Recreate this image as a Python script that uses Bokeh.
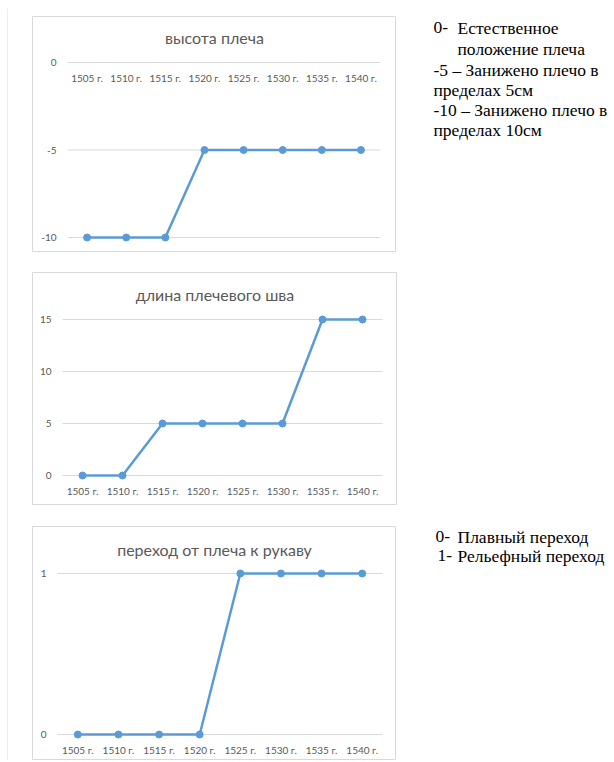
from bokeh.plotting import figure
from bokeh.models import (LinearAxis, FixedTicker, Range1d, Label, ColumnDataSource, Spacer)
from bokeh.layouts import row, column
from bokeh.embed import file_html
from bokeh.resources import INLINE
from bokeh.core.properties import value

# ---------------- data ----------------
years = ["1505 г.", "1510 г.", "1515 г.", "1520 г.", "1525 г.", "1530 г.", "1535 г.", "1540 г."]

title1 = "высота плеча"
height_vals = [-10, -10, -10, -5, -5, -5, -5, -5]
height_ticks = [0, -5, -10]

title2 = "длина плечевого шва"
seam_vals = [0, 0, 5, 5, 5, 5, 15, 15]
seam_ticks = [0, 5, 10, 15]

title3 = "переход от плеча к рукаву"
trans_vals = [0, 0, 0, 0, 1, 1, 1, 1]
trans_ticks = [0, 1]

note1_marks = ["0-", "", "-5 – Занижено плечо в", "пределах 5см", "-10 – Занижено плечо в", "пределах 10см"]
note1_texts = ["Естественное", "положение плеча", "", "", "", ""]
note2_marks = ["0-", "1-"]
note2_texts = ["Плавный переход", "Рельефный переход"]

# ---------------- style ----------------
BLUE = "#5B9BD5"
GRAY_TXT = "#595959"
GRID = "#D9D9D9"
SANS = "Lato"
SERIF = "Liberation Serif"


def make_chart(title, vals, ticks, W, H, pl, pr, top_val, top_px, bot_val, bot_px, title_px):
    n = len(years)
    bw = (pr - pl) / n
    x0 = -0.5 - pl / bw
    x1 = (n - 0.5) + (W - pr) / bw
    ppu = (bot_px - top_px) / (top_val - bot_val)
    y1 = top_val + top_px / ppu
    y0 = bot_val - (H - bot_px) / ppu

    p = figure(width=W, height=H, x_range=Range1d(x0, x1), y_range=Range1d(y0, y1),
               output_backend="svg", toolbar_location=None,
               x_axis_type=None, y_axis_type=None,
               min_border=0, min_border_left=0, min_border_right=0,
               min_border_top=0, min_border_bottom=0)
    p.outline_line_color = GRID
    p.outline_line_width = 1
    p.background_fill_color = "white"
    p.border_fill_color = "white"

    idx = list(range(n))
    # gridlines over plot area
    p.segment(x0=[-0.5] * len(ticks), x1=[n - 0.5] * len(ticks), y0=ticks, y1=ticks,
              line_color=GRID, line_width=1)

    xa = LinearAxis(ticker=FixedTicker(ticks=idx),
                    major_label_overrides={i: years[i] for i in idx})
    xa.fixed_location = 0
    xa.axis_line_color = None
    xa.major_tick_line_color = None
    xa.minor_tick_line_color = None
    xa.major_tick_in = 0
    xa.major_tick_out = 0
    xa.major_label_standoff = 9
    xa.major_label_text_font = SANS
    xa.major_label_text_font_size = "10px"
    xa.major_label_text_color = GRAY_TXT
    p.add_layout(xa, "below")

    ya = LinearAxis(ticker=FixedTicker(ticks=ticks),
                    major_label_overrides={t: str(t) for t in ticks})
    ya.fixed_location = -0.5
    ya.axis_line_color = None
    ya.major_tick_line_color = None
    ya.minor_tick_line_color = None
    ya.major_tick_in = 0
    ya.major_tick_out = 0
    ya.major_label_standoff = 11
    ya.major_label_text_font = SANS
    ya.major_label_text_font_size = "10px"
    ya.major_label_text_color = GRAY_TXT
    p.add_layout(ya, "left")

    p.line(x=idx, y=vals, line_color=BLUE, line_width=2.5)
    p.scatter(x=idx, y=vals, size=7, fill_color=BLUE, line_color=BLUE)

    # title (centered on the chart box)
    ty = y1 - title_px / ppu
    p.add_layout(Label(x=(x0 + x1) / 2, y=ty, text=title, text_align="center",
                       text_baseline="middle", text_font=SANS,
                       text_font_size="16px", text_color=GRAY_TXT))
    return p


# chart boxes (page px): fig1 y16-252, fig2 y272-505, fig3 y526-760 ; x 32-397
f1 = make_chart(title1, height_vals, height_ticks, 364, 236, 35, 348, 0, 46, -10, 221, 21)
f2 = make_chart(title2, seam_vals, seam_ticks, 365, 233, 30, 350, 15, 47, 0, 203, 22)
f3 = make_chart(title3, trans_vals, trans_ticks, 364, 234, 25, 350, 1, 47, 0, 208, 23)

# left page rule
rule = figure(width=1, height=752, output_backend="svg", toolbar_location=None,
              x_axis_type=None, y_axis_type=None, min_border=0,
              background_fill_color=GRID, border_fill_color=GRID)
rule.outline_line_color = None

# notes on the right
TW, TH = 214, 760
t = figure(width=TW, height=TH, x_range=Range1d(0, TW), y_range=Range1d(TH, 0),
           output_backend="svg", toolbar_location=None,
           x_axis_type=None, y_axis_type=None, min_border=0)
t.outline_line_color = None
t.grid.visible = False

n1_y = [27, 48, 69, 89, 109, 129]
n2_y = [536, 555]
src_m = ColumnDataSource(dict(x=[36] * 6 + [38, 40], y=n1_y + n2_y,
                              text=note1_marks + note2_marks))
src_t = ColumnDataSource(dict(x=[60] * 8, y=n1_y + n2_y, text=note1_texts + note2_texts))
for src in (src_m, src_t):
    t.text(x="x", y="y", text="text", source=src, text_font=value(SERIF),
           text_font_size="17.5px", text_color="black", text_baseline="middle",
           text_align="left")

left = column(Spacer(height=16), f1, Spacer(height=20), f2, Spacer(height=21), f3)
rule_col = column(Spacer(height=8), rule)
layout = row(Spacer(width=7), rule_col, Spacer(width=24), left, t)

open("out.html", "w").write(file_html(layout, INLINE))
